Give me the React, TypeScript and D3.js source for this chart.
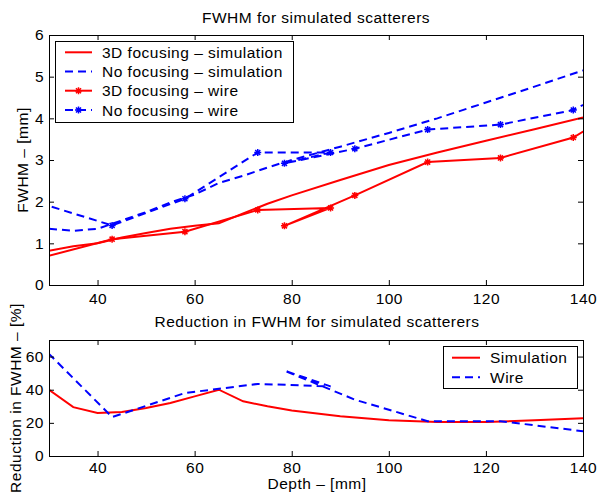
import React, { useEffect, useRef } from 'react';
import * as d3 from 'd3';

// simulation depths (mm)
const DEPTH_SIM = [30, 35, 40, 45, 50, 55, 60, 65, 70, 75, 80, 90, 100, 110, 120, 130, 140];
const FOCUS_SIM = [0.82, 0.93, 1.0, 1.14, 1.25, 1.35, 1.42, 1.48, 1.72, 1.95, 2.15, 2.52, 2.88, 3.18, 3.46, 3.74, 4.02];
const NOFOCUS_SIM = [1.35, 1.3, 1.35, 1.55, 1.75, 1.98, 2.17, 2.45, 2.62, 2.82, 3.0, 3.32, 3.65, 4.0, 4.38, 4.76, 5.15];

// wire measurements (order as measured, not sorted)
const DEPTH_WIRE = [28, 43, 58, 73, 88, 78.5, 93, 108, 123, 138, 150];
const FOCUS_WIRE = [0.64, 1.1, 1.28, 1.8, 1.85, 1.42, 2.15, 2.95, 3.05, 3.54, 4.38];
const NOFOCUS_WIRE = [1.97, 1.43, 2.07, 3.18, 3.18, 2.92, 3.27, 3.73, 3.85, 4.2, 4.92];

// reduction in FWHM [%]
const REDUCTION_SIM = [40, 29.5, 26, 26.5, 29, 32, 36, 40, 33, 30, 27.5, 24, 21.5, 20.5, 20.5, 21.5, 22.8];
const REDUCTION_WIRE = [67.5, 23.5, 38, 43.5, 42, 51.5, 34, 21, 21, 15.7, 11];

const X_TICKS = [40, 60, 80, 100, 120, 140];
const Y_TICKS_TOP = [0, 1, 2, 3, 4, 5, 6];
const Y_TICKS_BOT = [0, 20, 40, 60];

const FONT = '"Liberation Sans", Arial, Helvetica, sans-serif';
const RED = '#ff0000';
const BLUE = '#0000ff';
const DASH = '8,5';

const zip = (xs: number[], ys: number[]) => xs.map((d, i) => [d, ys[i]] as [number, number]);

const starPath = (r: number) => {
  const a = r * 0.72;
  return `M${-r},0H${r}M0,${-r}V${r}M${-a},${-a}L${a},${a}M${-a},${a}L${a},${-a}`;
};

const App = () => {
  const svgRef = useRef<SVGSVGElement>(null);

  useEffect(() => {
    const svg = d3.select(svgRef.current);
    svg.selectAll('*').remove();

    const x = d3.scaleLinear().domain([30, 140]).range([49, 583]);
    const yTop = d3.scaleLinear().domain([0, 6]).range([285, 35]);
    const yBot = d3.scaleLinear().domain([0, 70]).range([456, 340]);
    const fmt = (d: any) => String(d);

    const drawFrame = (y: d3.ScaleLinear<number, number>, yTicks: number[], xPad: number) => {
      const [y0, y1] = y.range();
      const [x0, x1] = x.range();
      const style = (g: any) => {
        g.attr('font-size', 15.5).attr('font-family', FONT).attr('letter-spacing', '0.5px');
        g.select('.domain').remove();
        g.selectAll('line').attr('stroke', '#000');
        g.selectAll('text').attr('fill', '#000');
      };
      svg.append('g').attr('transform', `translate(0,${y0})`)
        .call(d3.axisBottom(x).tickValues(X_TICKS).tickFormat(fmt).tickSizeInner(-5).tickSizeOuter(0).tickPadding(xPad))
        .call(style);
      svg.append('g').attr('transform', `translate(0,${y1})`)
        .call(d3.axisTop(x).tickValues(X_TICKS).tickSizeInner(-5).tickSizeOuter(0).tickFormat(() => ''))
        .call(style);
      svg.append('g').attr('transform', `translate(${x0},0)`)
        .call(d3.axisLeft(y).tickValues(yTicks).tickFormat(fmt).tickSizeInner(-5).tickSizeOuter(0).tickPadding(5))
        .call(style);
      svg.append('g').attr('transform', `translate(${x1},0)`)
        .call(d3.axisRight(y).tickValues(yTicks).tickSizeInner(-5).tickSizeOuter(0).tickFormat(() => ''))
        .call(style);
      svg.append('rect')
        .attr('x', x0 + 0.5).attr('y', y1 + 0.5)
        .attr('width', x1 - x0).attr('height', y0 - y1)
        .attr('fill', 'none').attr('stroke', '#000').attr('stroke-width', 1);
    };

    const plotArea = (id: string, y: d3.ScaleLinear<number, number>) => {
      const [y0, y1] = y.range();
      const [x0, x1] = x.range();
      svg.append('clipPath').attr('id', id)
        .append('rect').attr('x', x0).attr('y', y1).attr('width', x1 - x0).attr('height', y0 - y1);
      return svg.append('g').attr('clip-path', `url(#${id})`);
    };

    const drawSeries = (g: any, y: d3.ScaleLinear<number, number>, pts: [number, number][],
      color: string, dashed: boolean, markers: boolean) => {
      const line = d3.line<[number, number]>().x(d => x(d[0])).y(d => y(d[1]));
      g.append('path')
        .attr('d', line(pts))
        .attr('fill', 'none')
        .attr('stroke', color)
        .attr('stroke-width', 2)
        .attr('stroke-dasharray', dashed ? DASH : null);
      if (markers) {
        g.selectAll(null).data(pts).enter().append('path')
          .attr('d', starPath(3.5))
          .attr('transform', (d: [number, number]) => `translate(${x(d[0])},${y(d[1])})`)
          .attr('stroke', color).attr('stroke-width', 1.5).attr('fill', 'none');
      }
    };

    // ---- top plot
    const gTop = plotArea('clip-top', yTop);
    drawSeries(gTop, yTop, zip(DEPTH_SIM, FOCUS_SIM), RED, false, false);
    drawSeries(gTop, yTop, zip(DEPTH_SIM, NOFOCUS_SIM), BLUE, true, false);
    drawSeries(gTop, yTop, zip(DEPTH_WIRE, FOCUS_WIRE), RED, false, true);
    drawSeries(gTop, yTop, zip(DEPTH_WIRE, NOFOCUS_WIRE), BLUE, true, true);
    drawFrame(yTop, Y_TICKS_TOP, 8);

    // ---- bottom plot
    const gBot = plotArea('clip-bot', yBot);
    drawSeries(gBot, yBot, zip(DEPTH_SIM, REDUCTION_SIM), RED, false, false);
    drawSeries(gBot, yBot, zip(DEPTH_WIRE, REDUCTION_WIRE), BLUE, true, false);
    drawFrame(yBot, Y_TICKS_BOT, 6);

    const text = (tx: number, ty: number, s: string, anchor = 'middle', rotate = false) =>
      svg.append('text')
        .attr('transform', `translate(${tx},${ty})${rotate ? ' rotate(-90)' : ''}`)
        .attr('text-anchor', anchor)
        .attr('font-family', FONT).attr('font-size', 15.5).attr('letter-spacing', '0.5px')
        .attr('fill', '#000')
        .text(s);

    text(316, 22.5, 'FWHM for simulated scatterers');
    text(317, 327, 'Reduction in FWHM for simulated scatterers');
    text(317, 489, 'Depth \u2013 [mm]');
    text(28, 160, 'FWHM \u2013 [mm]', 'middle', true);
    text(21, 398, 'Reduction in FWHM \u2013 [%]', 'middle', true);

    // ---- legends
    const legend = (bx: number, by: number, bw: number, bh: number, rows: number[], lx0: number, lx1: number,
      items: { label: string; color: string; dashed: boolean; marker: boolean }[]) => {
      svg.append('rect').attr('x', bx + 0.5).attr('y', by + 0.5).attr('width', bw).attr('height', bh)
        .attr('fill', '#fff').attr('stroke', '#000').attr('stroke-width', 1);
      items.forEach((it, i) => {
        const ry = rows[i];
        svg.append('line').attr('x1', lx0).attr('x2', lx1).attr('y1', ry).attr('y2', ry)
          .attr('stroke', it.color).attr('stroke-width', 2)
          .attr('stroke-dasharray', it.dashed ? DASH : null);
        if (it.marker) {
          svg.append('path').attr('d', starPath(3.5))
            .attr('transform', `translate(${(lx0 + lx1) / 2},${ry})`)
            .attr('stroke', it.color).attr('stroke-width', 1.5).attr('fill', 'none');
        }
        text(lx1 + 10, ry + 5.5, it.label, 'start');
      });
    };

    legend(55, 41, 238, 81, [52.3, 71.5, 90.7, 110], 65, 92, [
      { label: '3D focusing \u2013 simulation', color: RED, dashed: false, marker: false },
      { label: 'No focusing \u2013 simulation', color: BLUE, dashed: true, marker: false },
      { label: '3D focusing \u2013 wire', color: RED, dashed: false, marker: true },
      { label: 'No focusing \u2013 wire', color: BLUE, dashed: true, marker: true },
    ]);

    legend(443, 346, 134, 42, [357.7, 377.3], 452, 480, [
      { label: 'Simulation', color: RED, dashed: false, marker: false },
      { label: 'Wire', color: BLUE, dashed: true, marker: false },
    ]);
  }, []);

  return (
    <svg ref={svgRef} width={597} height={497}
      style={{ position: 'absolute', left: 0, top: 0, background: '#fff' }} />
  );
};

export default App;
